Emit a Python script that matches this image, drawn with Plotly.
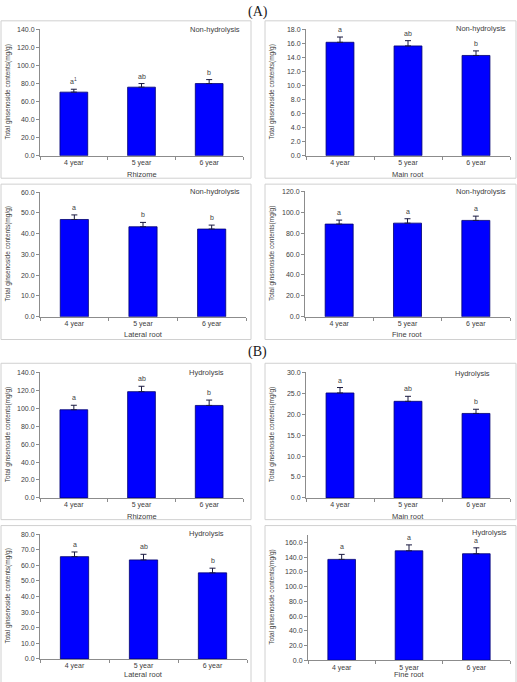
import plotly.graph_objects as go

# ---------------- data ----------------
years = ["4 year", "5 year", "6 year"]
tissues = ["Rhizome", "Main root", "Lateral root", "Fine root"]
y_title = "Total ginsenoside contents(mg/g)"

# (A) Non-hydrolysis
rhizome_nonhyd = [70.5, 76.0, 80.0]
rhizome_nonhyd_err = [3.2, 4.0, 4.4]
rhizome_nonhyd_letters = ["a<sup>1</sup>", "ab", "b"]

mainroot_nonhyd = [16.17, 15.65, 14.29]
mainroot_nonhyd_err = [0.75, 0.75, 0.65]
mainroot_nonhyd_letters = ["a", "ab", "b"]

lateral_nonhyd = [46.8, 43.3, 42.2]
lateral_nonhyd_err = [2.2, 2.1, 1.9]
lateral_nonhyd_letters = ["a", "b", "b"]

fine_nonhyd = [88.7, 89.6, 92.2]
fine_nonhyd_err = [3.8, 4.2, 4.1]
fine_nonhyd_letters = ["a", "a", "a"]

# (B) Hydrolysis
rhizome_hyd = [98.4, 118.6, 103.2]
rhizome_hyd_err = [5.0, 6.0, 6.0]
rhizome_hyd_letters = ["a", "ab", "b"]

mainroot_hyd = [25.1, 23.1, 20.2]
mainroot_hyd_err = [1.3, 1.2, 1.0]
mainroot_hyd_letters = ["a", "ab", "b"]

lateral_hyd = [65.6, 63.5, 55.2]
lateral_hyd_err = [3.0, 3.6, 3.0]
lateral_hyd_letters = ["a", "ab", "b"]

fine_hyd = [137.1, 148.8, 144.8]
fine_hyd_err = [6.8, 8.0, 8.0]
fine_hyd_letters = ["a", "a", "a"]

panel_labels = ["(A)", "(B)"]
treatments = ["Non-hydrolysis", "Hydrolysis"]

# ---------------- layout geometry (pixels) ----------------
W, H = 517, 682


def px(x):
    return x / W


def py(y):
    return 1 - y / H


panels = [
    dict(v=rhizome_nonhyd, e=rhizome_nonhyd_err, l=rhizome_nonhyd_letters, t=tissues[0], tr=treatments[0],
         ymax=140, dt=20, box=(1, 17, 251, 176), plot=(40, 243, 25.7, 153.3), lab=(215, 26), xt=172),
    dict(v=mainroot_nonhyd, e=mainroot_nonhyd_err, l=mainroot_nonhyd_letters, t=tissues[1], tr=treatments[0],
         ymax=18, dt=2, box=(265, 17, 516, 176), plot=(306, 510, 25.7, 153.3), lab=(481, 25), xt=172),
    dict(v=lateral_nonhyd, e=lateral_nonhyd_err, l=lateral_nonhyd_letters, t=tissues[2], tr=treatments[0],
         ymax=60, dt=10, box=(1, 182, 251, 339), plot=(40, 246, 190, 316), lab=(215, 189), xt=334),
    dict(v=fine_nonhyd, e=fine_nonhyd_err, l=fine_nonhyd_letters, t=tissues[3], tr=treatments[0],
         ymax=120, dt=20, box=(265, 182, 516, 339), plot=(305, 510, 189.3, 316), lab=(481, 189), xt=334),
    dict(v=rhizome_hyd, e=rhizome_hyd_err, l=rhizome_hyd_letters, t=tissues[0], tr=treatments[1],
         ymax=140, dt=20, box=(1, 363, 251, 521), plot=(40, 243, 372.3, 499), lab=(206, 372), xt=517.5),
    dict(v=mainroot_hyd, e=mainroot_hyd_err, l=mainroot_hyd_letters, t=tissues[1], tr=treatments[1],
         ymax=30, dt=5, box=(265, 363, 516, 521), plot=(306, 510, 372.3, 499), lab=(472, 373), xt=517.5),
    dict(v=lateral_hyd, e=lateral_hyd_err, l=lateral_hyd_letters, t=tissues[2], tr=treatments[1],
         ymax=80, dt=10, box=(1, 527, 251, 700), plot=(40, 247, 535.7, 661.7), lab=(206, 535), xt=677.5),
    dict(v=fine_hyd, e=fine_hyd_err, l=fine_hyd_letters, t=tissues[3], tr=treatments[1],
         ymax=170, dt=20, box=(265, 527, 516, 700), plot=(308, 510, 536.7, 663), lab=(490, 533.5), xt=677.5),
]

FONT = "Liberation Sans"
AXC = "#8c8c8c"
TXT = "#404040"

fig = go.Figure()
shapes = []
annotations = []
layout_axes = {}

for i, p in enumerate(panels):
    n = i + 1
    xa = "x" if n == 1 else f"x{n}"
    ya = "y" if n == 1 else f"y{n}"
    xkey = "xaxis" if n == 1 else f"xaxis{n}"
    ykey = "yaxis" if n == 1 else f"yaxis{n}"
    x0, x1, ytop, ybase = p["plot"]

    fig.add_trace(go.Bar(
        x=years, y=p["v"], xaxis=xa, yaxis=ya, width=0.41,
        marker=dict(color="#0000ff", line=dict(color="#00006e", width=0.8)),
        error_y=dict(type="data", array=p["e"], arrayminus=[0, 0, 0], symmetric=False,
                     color="#1a1a40", thickness=1, width=3),
        showlegend=False, hoverinfo="skip",
    ))

    layout_axes[xkey] = dict(
        domain=[px(x0), px(x1)], anchor=ya, type="category", range=[-0.5, 2.5],
        showline=True, linecolor=AXC, linewidth=1, ticks="outside", tickson="boundaries",
        ticklen=3, tickcolor=AXC, showgrid=False, zeroline=False,
        tickfont=dict(family=FONT, size=7, color=TXT), fixedrange=True,
    )
    layout_axes[ykey] = dict(
        domain=[py(ybase), py(ytop)], anchor=xa, range=[0, p["ymax"]], dtick=p["dt"], tick0=0,
        tickformat=".1f", showline=True, linecolor=AXC, linewidth=1, ticks="outside",
        ticklen=3, tickcolor=AXC, showgrid=False, zeroline=False,
        tickfont=dict(family=FONT, size=7, color=TXT), fixedrange=True,
    )

    # panel border
    bx0, by0, bx1, by1 = p["box"]
    shapes.append(dict(type="rect", xref="paper", yref="paper",
                       x0=px(bx0), x1=px(bx1), y0=py(by1), y1=py(by0),
                       line=dict(color="#d0d0d0", width=1), fillcolor="rgba(0,0,0,0)", layer="below"))

    # treatment label
    annotations.append(dict(text=p["tr"], xref="paper", yref="paper",
                            x=px(p["lab"][0]), y=py(p["lab"][1]), xanchor="center", yanchor="middle",
                            showarrow=False, font=dict(family=FONT, size=7.5, color=TXT)))
    # x title
    annotations.append(dict(text=p["t"], xref="paper", yref="paper",
                            x=px((x0 + x1) / 2), y=py(p["xt"]), xanchor="center", yanchor="middle",
                            showarrow=False, font=dict(family=FONT, size=7.5, color=TXT)))
    # y title
    annotations.append(dict(text=y_title, xref="paper", yref="paper", textangle=-90,
                            x=px(bx0 + 7), y=py((ytop + ybase) / 2), xanchor="center", yanchor="middle",
                            showarrow=False, font=dict(family=FONT, size=6.5, color=TXT)))
    # significance letters
    for k, yr in enumerate(years):
        annotations.append(dict(text=p["l"][k], x=yr, y=p["v"][k] + p["e"][k], xref=xa, yref=ya,
                                xanchor="center", yanchor="bottom", yshift=2, showarrow=False,
                                font=dict(family=FONT, size=7, color=TXT)))

# (A) and (B) headers
annotations.append(dict(text=panel_labels[0], xref="paper", yref="paper", x=px(258), y=py(8),
                        xanchor="center", yanchor="middle", showarrow=False,
                        font=dict(family="Liberation Serif", size=14, color="#202020")))
annotations.append(dict(text=panel_labels[1], xref="paper", yref="paper", x=px(257), y=py(352),
                        xanchor="center", yanchor="middle", showarrow=False,
                        font=dict(family="Liberation Serif", size=14, color="#202020")))

fig.update_layout(
    width=W, height=H, margin=dict(l=0, r=0, t=0, b=0),
    paper_bgcolor="white", plot_bgcolor="white",
    shapes=shapes, annotations=annotations, bargap=0.59,
    **layout_axes,
)

fig.write_html("out.html")
